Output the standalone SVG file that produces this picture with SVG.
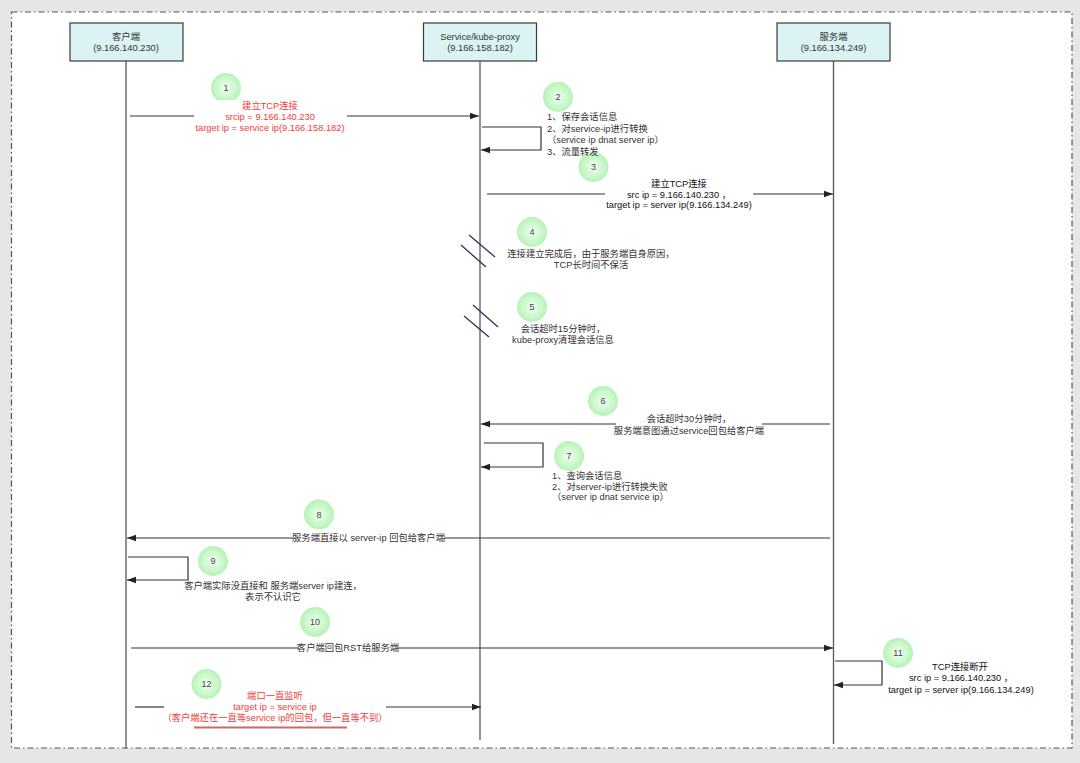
<svg xmlns="http://www.w3.org/2000/svg" width="1080" height="763" viewBox="0 0 1080 763">
<defs>
<style>
text{font-family:"Liberation Sans","Noto Sans CJK SC",sans-serif;font-size:9.3px;fill:#333;dominant-baseline:central}
.c{text-anchor:middle}
.red{fill:#f23c3c}
.dk{fill:#111}
.num{font-size:9px;fill:#444;text-anchor:middle}
.box{fill:#dcf3f4;stroke:#3a3a3a;stroke-width:1.2}
.life{stroke:#555;stroke-width:1.3;fill:none}
.msg{stroke:#333;stroke-width:1.2;fill:none}
.slash{stroke:#2b3552;stroke-width:1.3}
.bub{fill:url(#g)}
</style>
<radialGradient id="g" cx="0.5" cy="0.5" r="0.5">
<stop offset="0" stop-color="#eefff0"/>
<stop offset="0.7" stop-color="#c8f7c8"/>
<stop offset="1" stop-color="#b6f2b6"/>
</radialGradient>
<marker id="arr" viewBox="0 0 10 10" refX="10" refY="5" markerWidth="9" markerHeight="9" markerUnits="userSpaceOnUse" orient="auto">
<path d="M0,1.5 L10,5 L0,8.5 z" fill="#222"/>
</marker>
</defs>
<rect x="0" y="0" width="1080" height="763" fill="#e6e6e6"/>
<rect x="11.5" y="12" width="1060.5" height="736" fill="#fff" stroke="#555" stroke-width="1.2" stroke-dasharray="6,3,1.5,3"/>

<g id="lifelines">
<line class="life" x1="126" y1="61" x2="126" y2="748"/>
<line class="life" x1="480" y1="61" x2="480" y2="740" style="stroke:#888;stroke-width:1.8"/>
<line class="life" x1="833.5" y1="61" x2="833.5" y2="744"/>
</g>

<g id="client"><rect class="box" x="70" y="23" width="113" height="38"/><text class="c" x="126" y="37">客户端</text><text class="c" x="126" y="48">(9.166.140.230)</text></g>
<g id="service"><rect class="box" x="423.5" y="23" width="113" height="38"/><text class="c" x="480" y="37">Service/kube-proxy</text><text class="c" x="480" y="48">(9.166.158.182)</text></g>
<g id="server"><rect class="box" x="777" y="23" width="113" height="38"/><text class="c" x="833.5" y="37">服务端</text><text class="c" x="833.5" y="48">(9.166.134.249)</text></g>

<g id="connectors">
<g id="m1"><path class="msg" d="M130,116 H194"/><path class="msg" d="M347,116 H479" marker-end="url(#arr)"/></g>
<g id="m2"><path class="msg" d="M482,127 H541 V150 H481" marker-end="url(#arr)"/></g>
<g id="m3"><path class="msg" d="M487,194 H605"/><path class="msg" d="M753,194 H833" marker-end="url(#arr)"/></g>
<g id="m4"><line class="slash" x1="469" y1="235" x2="495" y2="257"/><line class="slash" x1="461" y1="245" x2="486" y2="267"/></g>
<g id="m5"><line class="slash" x1="473" y1="305" x2="498" y2="327"/><line class="slash" x1="464" y1="316" x2="489" y2="337"/></g>
<g id="m6"><path class="msg" d="M830,424 H762"/><path class="msg" d="M616,424 H481" marker-end="url(#arr)"/></g>
<g id="m7"><path class="msg" d="M484,443 H543 V467 H481" marker-end="url(#arr)"/></g>
<g id="m8"><path class="msg" d="M830,538 H444"/><path class="msg" d="M293,538 H127" marker-end="url(#arr)"/></g>
<g id="m9"><path class="msg" d="M128,557 H188 V580 H127" marker-end="url(#arr)"/></g>
<g id="m10"><path class="msg" d="M131,648 H299"/><path class="msg" d="M397,648 H833" marker-end="url(#arr)"/></g>
<g id="m11"><path class="msg" d="M835,661 H882 V685 H834" marker-end="url(#arr)"/></g>
<g id="m12"><path class="msg" d="M135,707 H164"/><path class="msg" d="M386,707 H481" marker-end="url(#arr)"/></g>
</g>

<g id="step1"><circle class="bub" cx="226" cy="88" r="15"/><text class="num" x="226" y="88">1</text>
<rect x="194" y="100" width="153" height="33" fill="#fff"/>
<text class="c red" x="270" y="106">建立TCP连接</text><text class="c red" x="270" y="117">srcip = 9.166.140.230</text><text class="c red" x="270" y="128">target ip = service ip(9.166.158.182)</text></g>

<g id="step2"><circle class="bub" cx="558" cy="97" r="15"/><text class="num" x="558" y="97">2</text>
<text x="547" y="117">1、保存会话信息</text><text x="547" y="129">2、对service-ip进行转换</text><text x="547" y="140">（service ip dnat server ip）</text></g>

<g id="step3"><circle class="bub" cx="593.5" cy="167" r="15"/><text class="num" x="593.5" y="167">3</text>
<text x="547" y="152">3、流量转发</text>
<text class="c dk" x="679" y="184">建立TCP连接</text><text class="c dk" x="679" y="195">src ip = 9.166.140.230 ，</text><text class="c dk" x="679" y="205">target ip = server ip(9.166.134.249)</text></g>

<g id="step4"><circle class="bub" cx="532" cy="232" r="15"/><text class="num" x="532" y="232">4</text>
<text class="c" x="591" y="254">连接建立完成后，由于服务端自身原因，</text><text class="c" x="591" y="265">TCP长时间不保活</text></g>

<g id="step5"><circle class="bub" cx="532" cy="307" r="15"/><text class="num" x="532" y="307">5</text>
<text class="c" x="563" y="329">会话超时15分钟时，</text><text class="c" x="563" y="340">kube-proxy清理会话信息</text></g>

<g id="step6"><circle class="bub" cx="603" cy="401" r="15"/><text class="num" x="603" y="401">6</text>
<text class="c" x="689" y="419">会话超时30分钟时，</text><text class="c" x="689" y="431">服务端意图通过service回包给客户端</text></g>

<g id="step7"><circle class="bub" cx="569" cy="456" r="15"/><text class="num" x="569" y="456">7</text>
<text x="552" y="476">1、查询会话信息</text><text x="552" y="487">2、对server-ip进行转换失败</text><text x="552" y="497">（server ip dnat service ip）</text></g>

<g id="step8"><circle class="bub" cx="319" cy="514.5" r="15"/><text class="num" x="319" y="514.5">8</text>
<text class="c" x="368.5" y="538">服务端直接以 server-ip 回包给客户端</text></g>

<g id="step9"><circle class="bub" cx="213" cy="561" r="15"/><text class="num" x="213" y="561">9</text>
<text class="c" x="273" y="586">客户端实际没直接和 服务端server ip建连，</text><text class="c" x="273" y="597">表示不认识它</text></g>

<g id="step10"><circle class="bub" cx="315" cy="622" r="15"/><text class="num" x="315" y="622">10</text>
<text class="c" x="348" y="648">客户端回包RST给服务端</text></g>

<g id="step11"><circle class="bub" cx="898" cy="653" r="15"/><text class="num" x="898" y="653">11</text>
<text class="c dk" x="960" y="667">TCP连接断开</text><text class="c dk" x="961" y="678">src ip = 9.166.140.230 ，</text><text class="c dk" x="961" y="690">target ip = server ip(9.166.134.249)</text></g>

<g id="step12"><circle class="bub" cx="206.5" cy="684" r="15"/><text class="num" x="206.5" y="684">12</text>
<text class="c red" x="275" y="696">端口一直监听</text><text class="c red" x="275" y="707">target ip = service ip</text><text class="c red" x="275" y="718">（客户端还在一直等service ip的回包，但一直等不到）</text>
<line x1="194" y1="727.5" x2="347" y2="727.5" stroke="#c86a6a" stroke-width="1.8"/></g>
</svg>
